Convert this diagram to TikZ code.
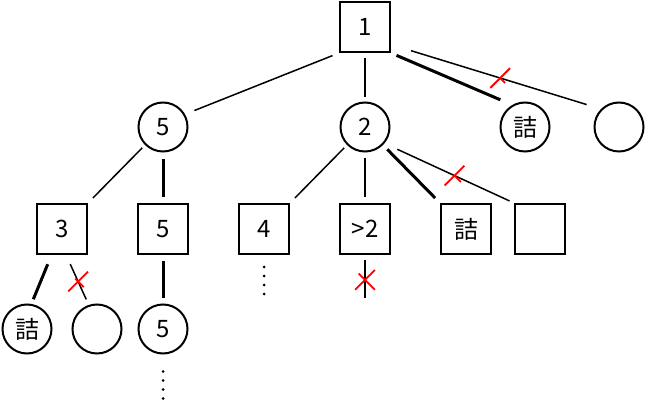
\documentclass[tikz,border=0pt]{standalone}
\usepackage{fontspec}
\setmainfont{Noto Sans CJK JP}
\usetikzlibrary{shapes.misc}

\begin{document}
\begin{tikzpicture}[
    x=1pt, y=-1pt,
    font=\fontsize{24}{26}\selectfont,
    box/.style={draw, line width=2pt, minimum size=50pt, inner sep=0pt},
    ball/.style={circle, draw, line width=2pt, minimum size=49pt, inner sep=0pt},
    link/.style={line width=1.5pt},
    strong/.style={line width=3pt},
    cut/.style={cross out, draw=red, line width=1.8pt, minimum size=18pt, inner sep=0pt},
    trail/.style={line width=3pt, line cap=round, dash pattern=on 0pt off 9pt}
]
    \useasboundingbox (0,0) rectangle (647,411);

    % Nodes
    \node[box] (root) at (365,27) {1};

    \node[ball] (a5) at (163,127) {5};
    \node[ball] (a2) at (365,127) {2};
    \node[ball] (amate) at (525,127) {詰};
    \node[ball] (aempty) at (619,127) {};

    \node[box] (b3) at (62,229) {3};
    \node[box] (b5) at (163,229) {5};
    \node[box] (b4) at (264,229) {4};
    \node[box] (bgt) at (365,229) {>2};
    \node[box] (bmate) at (466,229) {詰};
    \node[box] (bempty) at (540,229) {};

    \node[ball] (cmate) at (27,329) {詰};
    \node[ball] (cempty) at (97,329) {};
    \node[ball] (c5) at (163,329) {5};

    % loose ends
    \coordinate (b4end) at (264,294.5);
    \coordinate (bgtend) at (365,298);
    \coordinate (c5end) at (163,400.5);

    % Edges
    % 1 -> 5, 2, mate, empty (cut)
    \draw[link, shorten <=7pt, shorten >=10pt] (root.south west) -- (a5.30);
    \draw[link, shorten <=5pt, shorten >=4pt] (root) -- (a2);
    \draw[strong, shorten <=6pt, shorten >=13pt] (root.south east) -- (amate.120);
    \draw[link, shorten <=21pt, shorten >=15pt] (root.-34) -- (aempty.north west) node[cut, pos=0.52] {};

    % 5 -> 3, 5
    \draw[link, shorten <=4pt, shorten >=7pt] (a5.south west) -- (b3.north east);
    \draw[strong, shorten <=7pt, shorten >=6pt] (a5) -- (b5);

    % 2 -> 4, >2, mate, empty (cut)
    \draw[link, shorten <=4pt, shorten >=7pt] (a2.south west) -- (b4.north east);
    \draw[link, shorten <=6pt, shorten >=6pt] (a2) -- (bgt);
    \draw[strong, shorten <=6pt, shorten >=7pt] (a2.south east) -- (bmate.north west);
    \draw[link, shorten <=14pt, shorten >=5pt] (a2.-40) -- (bempty.north west) node[cut, pos=0.54] {};

    % 3 -> mate, empty (cut)
    \draw[strong, shorten <=10pt, shorten >=5pt] (b3.-112) -- (cmate.80);
    \draw[link, shorten <=10pt, shorten >=6pt] (b3.-81) -- (cempty.109) node[cut, pos=0.53] {};

    % 5 -> 5
    \draw[strong, shorten <=6pt, shorten >=6pt] (b5) -- (c5);

    % >2 is cut, 4 and 5 go on
    \draw[link, shorten <=5pt] (bgt) -- (bgtend) node[cut, pos=0.58] {};
    \draw[trail, shorten <=12pt] (b4) -- (b4end);
    \draw[trail, shorten <=17pt] (c5) -- (c5end);

\end{tikzpicture}
\end{document}
